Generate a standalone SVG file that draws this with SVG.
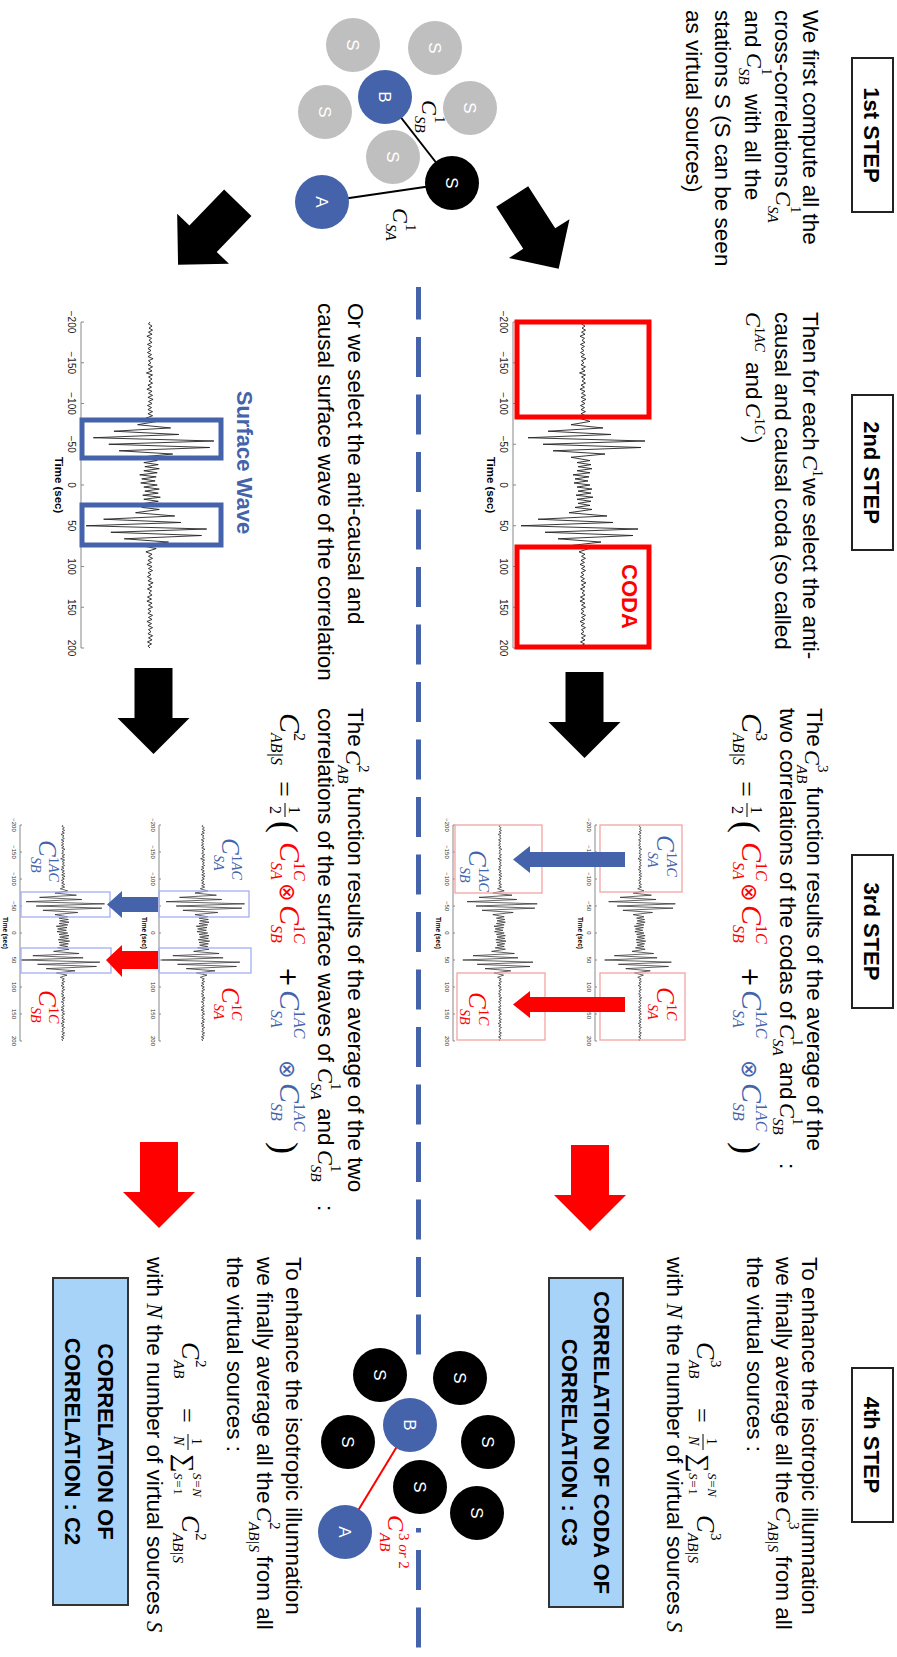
<svg xmlns="http://www.w3.org/2000/svg" width="897" height="1657" viewBox="0 0 897 1657">
<defs>
<style>
.tx{font-family:"Liberation Sans",Arial,sans-serif;font-size:22.5px;fill:#000}
.hd{font-family:"Liberation Sans",Arial,sans-serif;font-size:22px;font-weight:bold;text-anchor:middle;fill:#000}
.hbox{fill:#fff;stroke:#222;stroke-width:2}
.mi{font-family:"Liberation Serif","Times New Roman",serif;font-style:italic}
.up{font-style:normal}
.mr{font-family:"DejaVu Sans",sans-serif}
.ms{font-family:"Liberation Serif","DejaVu Serif",serif}
.rd{fill:#ff0000}
.bl{fill:#4463ab}
.ax{stroke:#888;stroke-width:1;fill:none}
.tk{font-family:"Liberation Sans",Arial,sans-serif;font-size:10px;fill:#222;text-anchor:middle}
.tks{font-family:"Liberation Sans",Arial,sans-serif;font-size:6px;fill:#333;text-anchor:middle}
.tt{font-family:"Liberation Sans",Arial,sans-serif;font-size:11.5px;font-weight:bold;text-anchor:middle}
.tts{font-family:"Liberation Sans",Arial,sans-serif;font-size:6.5px;font-weight:bold;text-anchor:middle}
.gr{fill:#bfbfbf}
.st{fill:#4463ab}
.bk{fill:#000}
.cl{font-family:"Liberation Sans",Arial,sans-serif;font-size:17px;fill:#fff;text-anchor:middle}
.res{fill:#a7d3f9;stroke:#333;stroke-width:2}
.rt{font-family:"Liberation Sans",Arial,sans-serif;font-size:22px;font-weight:bold;text-anchor:middle}
.wv{fill:none;stroke:#222}
</style>
<path id="wave" fill="none" vector-effect="non-scaling-stroke" d="M-200,0 -197.5,1.5 -195,-2 -192.5,1 -190,-2.5 -187.5,1.5 -185,-2 -182.5,3 -180,-1.5 -177.5,1 -175,-2 -172.5,2.5 -170,-1.5 -167.5,2 -165,-1 -162.5,2.5 -160,-1.5 -157.5,2 -155,-3 -152.5,1.5 -150,-1 -147.5,2 -145,-2.5 -142.5,1.5 -140,-2 -137.5,3.5 -135,-2.5 -132.5,1.5 -130,-2 -127.5,1 -125,-2.5 -122.5,2 -120,-1.5 -117.5,3 -115,-2 -112.5,1.5 -110,-2.5 -107.5,2 -105,-3 -102.5,1.5 -100,-2 -97.5,2.5 -95,-1.5 -92.5,2 -90,-2.5 -87.5,2 -85,-2.5 -82,4 -78,-7 -74,12 -70,-20 -66,35 -62,-28 -58,55 -54,-62 -50,40 -46,-58 -42,30 -38,-22 -34,12 -30,-7 -27.5,6 -25,-8 -22.5,5 -20,-9 -17.5,6 -15,-7 -12.5,10 -10,-6 -7.5,8 -5,-5 -2.5,9 0,-7 2.5,6 5,-9 7.5,5 10,-8 12.5,7 15,-10 17.5,6 20,-8 22.5,5 25,-7 27.5,8 30,-9 34,14 38,-24 42,45 46,-30 50,62 54,-55 58,38 62,-50 66,25 70,-18 74,10 78,-6 82,4 85,-2 87.5,1.5 90,-2.5 92.5,2 95,-1.5 97.5,3 100,-2 102.5,1.5 105,-2.5 107.5,2 110,-1 112.5,2.5 115,-1.5 117.5,2 120,-3 122.5,1.5 125,-2 127.5,2.5 130,-1.5 132.5,1 135,-2 137.5,2.5 140,-1.5 142.5,3 145,-2 147.5,1.5 150,-2.5 152.5,2 155,-1 157.5,2 160,-2.5 162.5,1.5 165,-2 167.5,3 170,-1.5 172.5,2 175,-2.5 177.5,1.5 180,-1 182.5,2 185,-2.5 187.5,1.5 190,-2 192.5,2.5 195,-1.5 197.5,2 200,0"/>
<path id="barrow" d="M0,-19H50V-36L86,0L50,36V19H0Z"/>
<g id="bt">
<line class="ax" x1="322" y1="0" x2="648" y2="0"/>
<path class="ax" d="M322,0v-3M362.75,0v-3M403.5,0v-3M444.25,0v-3M485,0v-3M525.75,0v-3M566.5,0v-3M607.25,0v-3M648,0v-3"/>
<text class="tk" y="13"><tspan x="322">−200</tspan><tspan x="362.75">−150</tspan><tspan x="403.5">−100</tspan><tspan x="444.25">−50</tspan><tspan x="485">0</tspan><tspan x="525.75">50</tspan><tspan x="566.5">100</tspan><tspan x="607.25">150</tspan><tspan x="648">200</tspan></text>
<text class="tt" x="485" y="26">Time (sec)</text>
</g>
<g id="sm">
<line class="ax" x1="825" y1="0" x2="1041" y2="0"/>
<path class="ax" d="M825,0v-2M852,0v-2M879,0v-2M906,0v-2M933,0v-2M960,0v-2M987,0v-2M1014,0v-2M1041,0v-2"/>
<text class="tks" y="8"><tspan x="825">−200</tspan><tspan x="852">−150</tspan><tspan x="879">−100</tspan><tspan x="906">−50</tspan><tspan x="933">0</tspan><tspan x="960">50</tspan><tspan x="987">100</tspan><tspan x="1014">150</tspan><tspan x="1041">200</tspan></text>
<text class="tts" x="933" y="17">Time (sec)</text>
</g>
<g id="frm">
<text class="ms" x="781" y="5" font-size="28">=</text>
<text class="ms" x="806" y="-9" font-size="16">1</text>
<line x1="803" y1="-5" x2="817" y2="-5" stroke="#000" stroke-width="1"/>
<text class="ms" x="806" y="10" font-size="16">2</text>
<text class="ms" x="821" y="7" font-size="36">(</text>
<text class="mi rd" x="842" y="0" font-size="30">C</text>
<text class="mi rd" x="862" y="-14" font-size="16"><tspan class="up">1</tspan>C</text>
<text class="mi rd" x="862" y="9" font-size="16">SA</text>
<text class="mr rd" x="883" y="0" font-size="22">⊗</text>
<text class="mi rd" x="905" y="0" font-size="30">C</text>
<text class="mi rd" x="925" y="-14" font-size="16"><tspan class="up">1</tspan>C</text>
<text class="mi rd" x="925" y="9" font-size="16">SB</text>
<text class="mr" x="967" y="0" font-size="24">+</text>
<text class="mi bl" x="990" y="0" font-size="30">C</text>
<text class="mi bl" x="1010" y="-14" font-size="16"><tspan class="up">1</tspan>AC</text>
<text class="mi bl" x="1010" y="9" font-size="16">SA</text>
<text class="mr bl" x="1060" y="0" font-size="22">⊗</text>
<text class="mi bl" x="1083" y="0" font-size="30">C</text>
<text class="mi bl" x="1103" y="-14" font-size="16"><tspan class="up">1</tspan>AC</text>
<text class="mi bl" x="1103" y="9" font-size="16">SB</text>
<text class="ms" x="1142" y="7" font-size="36">)</text>
</g>
</defs>
<rect width="897" height="1657" fill="#fff"/>
<g transform="translate(897,0) rotate(90)">

<g id="headers">
<g id="step1"><rect class="hbox" x="58" y="4" width="154" height="41"/><text class="hd" x="135" y="33">1st STEP</text></g>
<g id="step2"><rect class="hbox" x="395" y="4" width="155" height="41"/><text class="hd" x="472.5" y="33">2nd STEP</text></g>
<g id="step3"><rect class="hbox" x="855" y="4" width="153" height="41"/><text class="hd" x="931.5" y="33">3rd STEP</text></g>
<g id="step4"><rect class="hbox" x="1368" y="4" width="154" height="41"/><text class="hd" x="1445" y="33">4th STEP</text></g>
</g>

<g id="connectors">
<path d="M287,478.5H1355" stroke="#4463ab" stroke-width="5" stroke-dasharray="40 17.5" stroke-dashoffset="7.5" fill="none"/>
<path d="M1528,478.5H1648" stroke="#4463ab" stroke-width="5" stroke-dasharray="40 17.5" stroke-dashoffset="35.5" fill="none"/>
<use href="#barrow" transform="translate(196.5,384.8) rotate(-32.7)"/>
<use href="#barrow" transform="translate(202.8,659.2) rotate(44)"/>
<use href="#barrow" transform="translate(672,312.5)"/>
<use href="#barrow" transform="translate(668,743.5)"/>
<use href="#barrow" transform="translate(1145,307)" fill="#ff0000"/>
<use href="#barrow" transform="translate(1142,738)" fill="#ff0000"/>
</g>

<g id="text1">
<text class="tx" x="10" y="94">We first compute all the</text>
<text class="tx" x="10" y="122">cross-correlations</text>
<text class="mi" x="191" y="121" font-size="22">C</text>
<text class="mi up" x="206" y="106" font-size="15">1</text>
<text class="mi" x="206" y="129" font-size="15">SA</text>
<text class="tx" x="10" y="152">and</text>
<text class="mi" x="53" y="150" font-size="22">C</text>
<text class="mi up" x="68" y="135" font-size="15">1</text>
<text class="mi" x="68" y="158" font-size="15">SB</text>
<text class="tx" x="94" y="152">with all the</text>
<text class="tx" x="10" y="182">stations S (S can be seen</text>
<text class="tx" x="10" y="211">as virtual sources)</text>
</g>

<g id="graph1">
<circle class="gr" cx="45" cy="544" r="27"/>
<circle class="gr" cx="48" cy="462" r="27"/>
<circle class="gr" cx="108" cy="427" r="27"/>
<circle class="gr" cx="112" cy="572" r="27"/>
<circle class="gr" cx="157" cy="504" r="27"/>
<text class="cl" x="45" y="550">S</text>
<text class="cl" x="48" y="468">S</text>
<text class="cl" x="108" y="433">S</text>
<text class="cl" x="112" y="578">S</text>
<text class="cl" x="157" y="510">S</text>
<line x1="97" y1="512" x2="183" y2="445" stroke="#000" stroke-width="2"/>
<line x1="202" y1="575" x2="183" y2="445" stroke="#000" stroke-width="2"/>
<circle class="st" cx="97" cy="512" r="27"/>
<circle class="st" cx="202" cy="575" r="27"/>
<circle class="bk" cx="183" cy="445" r="27"/>
<text class="cl" x="97" y="518">B</text>
<text class="cl" x="202" y="581">A</text>
<text class="cl" x="183" y="451">S</text>
<text class="mi" x="100" y="475" font-size="22">C</text>
<text class="mi up" x="116" y="462" font-size="15">1</text>
<text class="mi" x="116" y="482" font-size="15">SB</text>
<text class="mi" x="208" y="504" font-size="22">C</text>
<text class="mi up" x="224" y="491" font-size="15">1</text>
<text class="mi" x="224" y="511" font-size="15">SA</text>
</g>

<g id="text2">
<text class="tx" x="312" y="94">Then for each</text>
<text class="mi" x="455" y="94" font-size="22">C</text>
<text class="mi up" x="470" y="84" font-size="14">1</text>
<text class="tx" x="478" y="94">we select the anti-</text>
<text class="tx" x="312" y="122">causal and causal coda (so called</text>
<text class="mi" x="312" y="151" font-size="22">C</text>
<text class="mi" x="327" y="142" font-size="14"><tspan class="up">1</tspan>AC</text>
<text class="tx" x="362" y="151">and</text>
<text class="mi" x="403" y="151" font-size="22">C</text>
<text class="mi" x="418" y="142" font-size="14"><tspan class="up">1</tspan>C</text>
<text class="tx" x="436" y="151">)</text>
<text class="tx" x="303" y="549">Or we select the anti-causal and</text>
<text class="tx" x="303" y="579">causal surface wave of the correlation</text>
</g>

<g id="coda-graph">
<use href="#wave" class="wv" stroke-width="0.9" transform="translate(485,314) scale(0.815,1)"/>
<use href="#bt" transform="translate(0,384)"/>
<rect x="322" y="248" width="95" height="132" fill="none" stroke="#ff0000" stroke-width="5"/>
<rect x="547" y="248" width="100" height="132" fill="none" stroke="#ff0000" stroke-width="5"/>
<text class="rt rd" x="596.5" y="275" font-size="20">CODA</text>
</g>

<g id="surface-graph">
<use href="#wave" class="wv" stroke-width="0.9" transform="translate(485,747) scale(0.815,1.03)"/>
<use href="#bt" transform="translate(0,816)"/>
<rect x="420" y="676" width="38" height="139" fill="none" stroke="#4463ab" stroke-width="5"/>
<rect x="505" y="676" width="40" height="139" fill="none" stroke="#4463ab" stroke-width="5"/>
<text class="rt bl" x="462.5" y="660" font-size="25">Surface Wave</text>
</g>

<g id="text3">
<text class="tx" x="708" y="90">The</text>
<text class="mi" x="750" y="92" font-size="22">C</text>
<text class="mi up" x="765" y="79" font-size="15">3</text>
<text class="mi" x="765" y="100" font-size="15">AB</text>
<text class="tx" x="787" y="90">function results of the average of the</text>
<text class="tx" x="708" y="117">two correlations of the codas of</text>
<text class="mi" x="1024" y="117" font-size="22">C</text>
<text class="mi up" x="1039" y="104" font-size="15">1</text>
<text class="mi" x="1039" y="124" font-size="15">SA</text>
<text class="tx" x="1062" y="117">and</text>
<text class="mi" x="1103" y="117" font-size="22">C</text>
<text class="mi up" x="1118" y="104" font-size="15">1</text>
<text class="mi" x="1118" y="124" font-size="15">SB</text>
<text class="tx" x="1163" y="117">:</text>
<text class="mi" x="713" y="155" font-size="30">C</text>
<text class="mi up" x="733" y="141" font-size="16">3</text>
<text class="mi" x="733" y="164" font-size="16">AB|S</text>
<use href="#frm" transform="translate(0,155)"/>

<text class="tx" x="708" y="549">The</text>
<text class="mi" x="750" y="551" font-size="22">C</text>
<text class="mi up" x="765" y="538" font-size="15">2</text>
<text class="mi" x="765" y="559" font-size="15">AB</text>
<text class="tx" x="787" y="549">function results of the average of the two</text>
<text class="tx" x="708" y="579">correlations of the surface waves of</text>
<text class="mi" x="1068" y="579" font-size="22">C</text>
<text class="mi up" x="1083" y="566" font-size="15">1</text>
<text class="mi" x="1083" y="586" font-size="15">SA</text>
<text class="tx" x="1108" y="579">and</text>
<text class="mi" x="1150" y="579" font-size="22">C</text>
<text class="mi up" x="1165" y="566" font-size="15">1</text>
<text class="mi" x="1165" y="586" font-size="15">SB</text>
<text class="tx" x="1205" y="579">:</text>
<text class="mi" x="713" y="617" font-size="30">C</text>
<text class="mi up" x="733" y="603" font-size="16">2</text>
<text class="mi" x="733" y="626" font-size="16">AB|S</text>
<use href="#frm" transform="translate(0,617)"/>
</g>

<g id="coda-pair">
<use href="#wave" class="wv" stroke-width="0.7" transform="translate(933,257) scale(0.54,0.57)"/>
<use href="#wave" class="wv" stroke-width="0.7" transform="translate(933,397) scale(0.54,0.6)"/>
<use href="#sm" transform="translate(0,302)"/>
<use href="#sm" transform="translate(0,444)"/>
<g fill="none" stroke="#f3a3a3" stroke-width="1.3">
<rect x="825" y="215" width="67" height="82"/>
<rect x="973" y="212" width="67" height="85"/>
<rect x="825" y="355" width="68" height="87"/>
<rect x="973" y="352" width="67" height="88"/>
</g>
<path class="bl" d="M852,272H867V367H873L859.5,384L846,367H852Z"/>
<path class="rd" d="M997,272H1012V367H1018L1004.5,384L991,367H997Z"/>
<text class="mi bl" x="835" y="240" font-size="25">C</text>
<text class="mi bl" x="852" y="230" font-size="14"><tspan class="up">1</tspan>AC</text>
<text class="mi bl" x="852" y="249" font-size="14">SA</text>
<text class="mi rd" x="987" y="240" font-size="25">C</text>
<text class="mi rd" x="1004" y="230" font-size="14"><tspan class="up">1</tspan>C</text>
<text class="mi rd" x="1004" y="249" font-size="14">SA</text>
<text class="mi bl" x="850" y="428" font-size="25">C</text>
<text class="mi bl" x="867" y="418" font-size="14"><tspan class="up">1</tspan>AC</text>
<text class="mi bl" x="867" y="437" font-size="14">SB</text>
<text class="mi rd" x="992" y="428" font-size="25">C</text>
<text class="mi rd" x="1009" y="418" font-size="14"><tspan class="up">1</tspan>C</text>
<text class="mi rd" x="1009" y="437" font-size="14">SB</text>
</g>

<g id="surface-pair">
<use href="#wave" class="wv" stroke-width="0.7" transform="translate(933,694) scale(0.54,0.67)"/>
<use href="#wave" class="wv" stroke-width="0.7" transform="translate(933,834) scale(0.54,0.67)"/>
<use href="#sm" transform="translate(0,738)"/>
<use href="#sm" transform="translate(0,877)"/>
<g fill="none" stroke="#a3aef0" stroke-width="1.3">
<rect x="891" y="648" width="26" height="90"/>
<rect x="948" y="646" width="25" height="92"/>
<rect x="892" y="787" width="25" height="89"/>
<rect x="948" y="786" width="25" height="90"/>
</g>
<path class="bl" d="M897,739H912V775H918L904.5,790L891,775H897Z"/>
<path class="rd" d="M951,739H969V775H977L960,791L945,775H951Z"/>
<text class="mi bl" x="838" y="675" font-size="25">C</text>
<text class="mi bl" x="855" y="665" font-size="14"><tspan class="up">1</tspan>AC</text>
<text class="mi bl" x="855" y="683" font-size="14">SA</text>
<text class="mi rd" x="987" y="675" font-size="25">C</text>
<text class="mi rd" x="1004" y="665" font-size="14"><tspan class="up">1</tspan>C</text>
<text class="mi rd" x="1004" y="683" font-size="14">SA</text>
<text class="mi bl" x="840" y="858" font-size="25">C</text>
<text class="mi bl" x="857" y="848" font-size="14"><tspan class="up">1</tspan>AC</text>
<text class="mi bl" x="857" y="866" font-size="14">SB</text>
<text class="mi rd" x="990" y="858" font-size="25">C</text>
<text class="mi rd" x="1007" y="848" font-size="14"><tspan class="up">1</tspan>C</text>
<text class="mi rd" x="1007" y="866" font-size="14">SB</text>
</g>

<g id="text4">
<text class="tx" x="1257" y="95">To enhance the isotropic illumnation</text>
<text class="tx" x="1257" y="121">we finally average all the</text>
<text class="mi" x="1507" y="121" font-size="22">C</text>
<text class="mi up" x="1522" y="108" font-size="15">3</text>
<text class="mi" x="1522" y="129" font-size="15">AB|S</text>
<text class="tx" x="1556" y="121">from all</text>
<text class="tx" x="1257" y="150">the virtual sources :</text>
<text class="mi" x="1342" y="200" font-size="26">C</text>
<text class="mi up" x="1360" y="186" font-size="15">3</text>
<text class="mi" x="1360" y="208" font-size="15">AB</text>
<text class="ms" x="1408" y="204" font-size="26">=</text>
<text class="ms" x="1438" y="190" font-size="14">1</text>
<line x1="1434" y1="194" x2="1450" y2="194" stroke="#000"/>
<text class="mi" x="1436" y="208" font-size="14">N</text>
<text class="ms" x="1454" y="206" font-size="26">∑</text>
<text class="mi" x="1473" y="189" font-size="13">S=N</text>
<text class="mi" x="1473" y="208" font-size="13">S=<tspan class="up">1</tspan></text>
<text class="mi" x="1515" y="200" font-size="26">C</text>
<text class="mi up" x="1533" y="186" font-size="15">3</text>
<text class="mi" x="1533" y="209" font-size="15">AB|S</text>
<text class="tx" x="1257" y="230">with <tspan class="mi">N</tspan> the number of virtual sources <tspan class="mi">S</tspan></text>

<text class="tx" x="1257" y="611">To enhance the isotropic illumnation</text>
<text class="tx" x="1257" y="640">we finally average all the</text>
<text class="mi" x="1507" y="640" font-size="22">C</text>
<text class="mi up" x="1522" y="627" font-size="15">2</text>
<text class="mi" x="1522" y="648" font-size="15">AB|S</text>
<text class="tx" x="1556" y="640">from all</text>
<text class="tx" x="1257" y="670">the virtual sources :</text>
<text class="mi" x="1342" y="715" font-size="26">C</text>
<text class="mi up" x="1360" y="701" font-size="15">2</text>
<text class="mi" x="1360" y="723" font-size="15">AB</text>
<text class="ms" x="1408" y="719" font-size="26">=</text>
<text class="ms" x="1438" y="705" font-size="14">1</text>
<line x1="1434" y1="709" x2="1450" y2="709" stroke="#000"/>
<text class="mi" x="1436" y="723" font-size="14">N</text>
<text class="ms" x="1454" y="721" font-size="26">∑</text>
<text class="mi" x="1473" y="704" font-size="13">S=N</text>
<text class="mi" x="1473" y="723" font-size="13">S=<tspan class="up">1</tspan></text>
<text class="mi" x="1515" y="715" font-size="26">C</text>
<text class="mi up" x="1533" y="701" font-size="15">2</text>
<text class="mi" x="1533" y="724" font-size="15">AB|S</text>
<text class="tx" x="1257" y="750">with <tspan class="mi">N</tspan> the number of virtual sources <tspan class="mi">S</tspan></text>
</g>

<g id="result-c3">
<rect class="res" x="1278" y="274" width="329" height="74"/>
<text class="rt" x="1442.5" y="303">CORRELATION OF CODA OF</text>
<text class="rt" x="1442.5" y="335">CORRELATION : C3</text>
</g>

<g id="result-c2">
<rect class="res" x="1278" y="769" width="327" height="75"/>
<text class="rt" x="1441.5" y="799">CORRELATION OF</text>
<text class="rt" x="1441.5" y="832">CORRELATION : C2</text>
</g>

<g id="graph4">
<line x1="1425" y1="487" x2="1532" y2="552" stroke="#ff0000" stroke-width="2"/>
<circle class="bk" cx="1378" cy="437" r="27"/>
<circle class="bk" cx="1442" cy="409" r="27"/>
<circle class="bk" cx="1513" cy="420" r="27"/>
<circle class="bk" cx="1487" cy="477" r="27"/>
<circle class="bk" cx="1375" cy="517" r="27"/>
<circle class="bk" cx="1442" cy="549" r="27"/>
<circle class="st" cx="1425" cy="487" r="27"/>
<circle class="st" cx="1532" cy="552" r="27"/>
<text class="cl" x="1378" y="443">S</text>
<text class="cl" x="1442" y="415">S</text>
<text class="cl" x="1513" y="426">S</text>
<text class="cl" x="1487" y="483">S</text>
<text class="cl" x="1375" y="523">S</text>
<text class="cl" x="1442" y="555">S</text>
<text class="cl" x="1425" y="493">B</text>
<text class="cl" x="1532" y="558">A</text>
<text class="mi rd" x="1515" y="509" font-size="24">C</text>
<text class="mi rd" x="1533" y="498" font-size="15"><tspan class="up">3</tspan> or <tspan class="up">2</tspan></text>
<text class="mi rd" x="1533" y="517" font-size="15">AB</text>
</g>

</g>
</svg>
